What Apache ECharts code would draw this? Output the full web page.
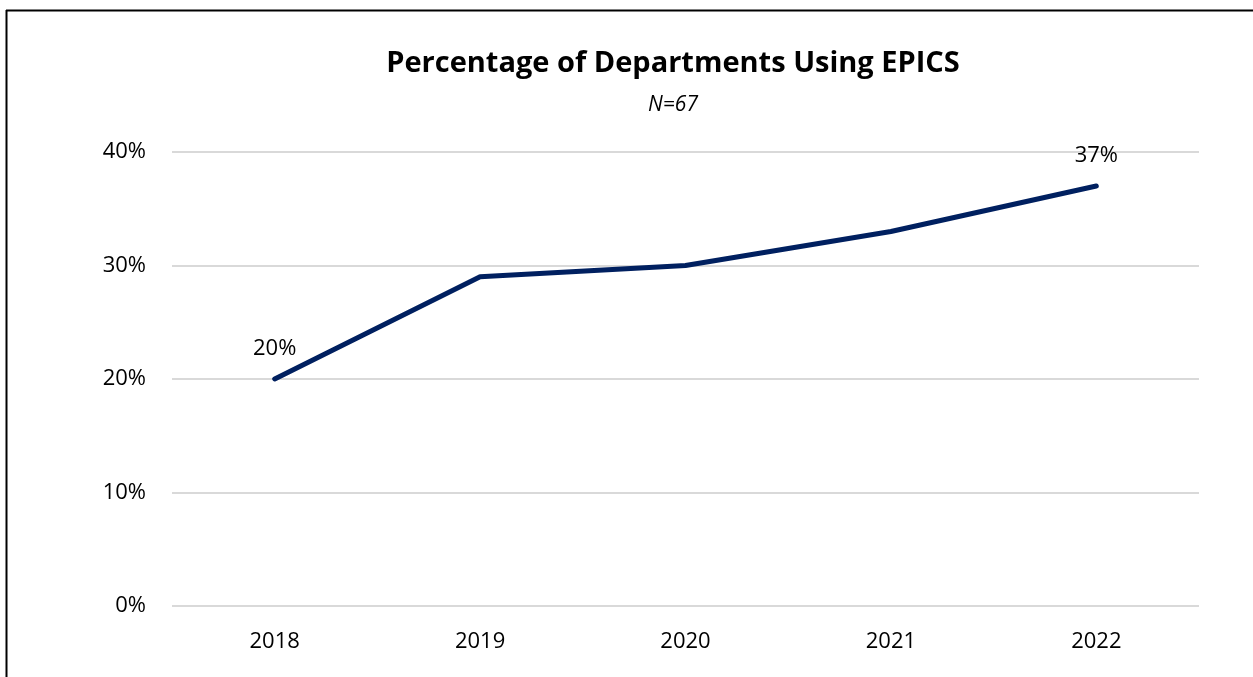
<!DOCTYPE html>
<html><head><meta charset="utf-8">
<script src="https://cdn.jsdelivr.net/npm/echarts@6/dist/echarts.min.js"></script>
<style>html,body{margin:0;padding:0;background:#fff}#c{width:1253px;height:677px}</style>
</head><body><div id="c"></div>
<script>
const years = ['2018','2019','2020','2021','2022'];
const pctValues = [20, 29, 30, 33, 37];
const yTicks = [0, 10, 20, 30, 40];
const labeledIdx = [0, 4];

const chart = echarts.init(document.getElementById('c'));
const font = 'Open Sans';
chart.setOption({
  animation: false,
  backgroundColor: '#fff',
  title: [{
    text: 'Percentage of Departments Using EPICS',
    left: 668, textAlign: 'center', top: 44,
    textStyle: {fontFamily: font, fontWeight: 'bold', fontSize: 29, color: '#000'}
  }, {
    text: 'N=67',
    left: 668, textAlign: 'center', top: 90,
    textStyle: {fontFamily: font, fontStyle: 'italic', fontWeight: 'normal', fontSize: 21, color: '#000'}
  }],
  graphic: [
    {type: 'line', shape: {x1: 6.5, y1: 10, x2: 6.5, y2: 677}, style: {stroke: '#000', lineWidth: 2}},
    {type: 'line', shape: {x1: 6, y1: 10.5, x2: 1253, y2: 10.5}, style: {stroke: '#000', lineWidth: 2}}
  ],
  grid: {left: 172, right: 54, top: 152, bottom: 71, containLabel: false},
  xAxis: {
    type: 'category', data: years, boundaryGap: true,
    axisLine: {show: false}, axisTick: {show: false},
    axisLabel: {fontFamily: font, fontSize: 22, color: '#000', margin: 25}
  },
  yAxis: {
    type: 'value', min: yTicks[0], max: yTicks[yTicks.length-1], interval: 10,
    axisLine: {show: false}, axisTick: {show: false},
    splitLine: {lineStyle: {color: '#d9d9d9', width: 2}},
    axisLabel: {fontFamily: font, fontSize: 22, color: '#000', margin: 26, formatter: v => v + '%'}
  },
  series: [{
    type: 'line',
    data: pctValues.map((v, i) => ({
      value: v,
      label: {show: labeledIdx.includes(i)}
    })),
    symbol: 'circle', symbolSize: 1, showSymbol: true,
    itemStyle: {color: '#002060'},
    lineStyle: {color: '#002060', width: 5, cap: 'round', join: 'round'},
    label: {position: 'top', distance: 19, fontFamily: font, fontSize: 22, color: '#000', formatter: p => p.value + '%'}
  }]
});
</script></body></html>
